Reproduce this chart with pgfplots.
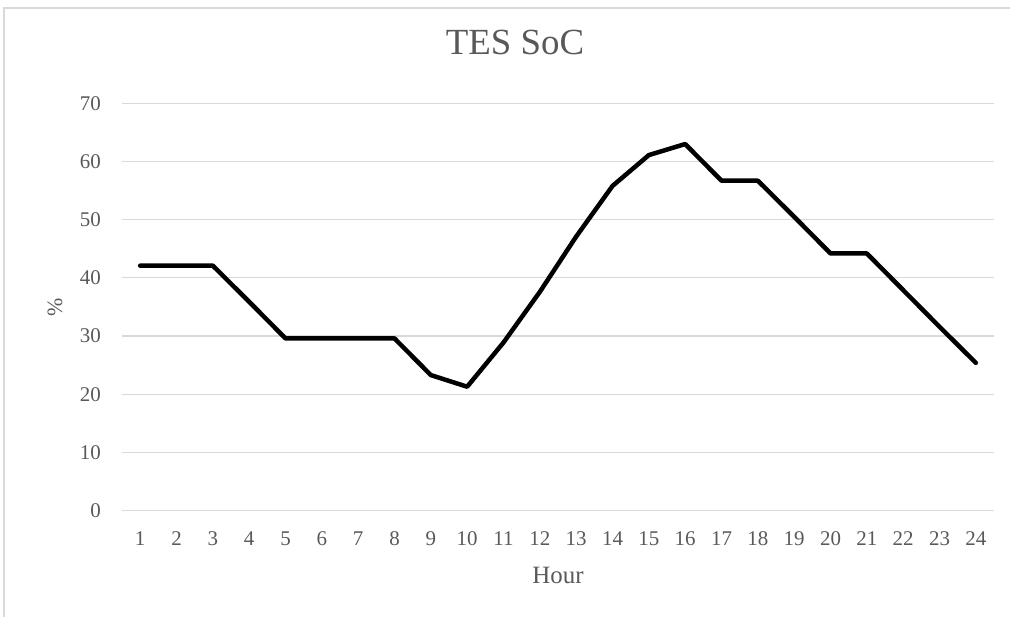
\documentclass[border=0pt]{standalone}
\usepackage{fontspec}
\setmainfont{Liberation Serif}
\usepackage{pgfplots}
\pgfplotsset{compat=1.18}
\definecolor{txt}{HTML}{595959}
\definecolor{grd}{HTML}{D9D9D9}
\begin{document}
\begin{tikzpicture}[x=1bp,y=1bp]
\useasboundingbox (0,0) rectangle (1010,617);
\draw[grd, line width=1.2bp] (4,0) -- (4,609) -- (1010,609);
\begin{axis}[
  at={(122bp,106.3bp)}, anchor=south west,
  scale only axis, width=872bp, height=407.4bp,
  xmin=0.5, xmax=24.5, ymin=0, ymax=70,
  xtick={1,...,24}, ytick={0,10,...,70},
  ymajorgrids, grid style={grd, line width=1.2bp},
  axis line style={draw=none},
  major tick length=0pt,
  /pgf/number format/assume math mode=true,
  tick label style={color=txt, font=\fontsize{21}{24}\selectfont, inner sep=0pt},
  xticklabel style={anchor=north, yshift=-21bp},
  yticklabel style={anchor=east, xshift=-21bp},
  title={TES SoC},
  title style={color=txt, font=\fontsize{37}{40}\selectfont, inner sep=0pt, at={(rel axis cs:0.5,1)}, anchor=center, xshift=-43bp, yshift=54.8bp},
  xlabel={Hour},
  xlabel style={color=txt, font=\fontsize{25}{28}\selectfont, inner sep=0pt, at={(rel axis cs:0.5,0)}, anchor=center, yshift=-64.3bp},
  ylabel={\%},
  ylabel style={color=txt, font=\fontsize{22}{24}\selectfont, inner sep=0pt, at={(axis description cs:-0.0768,0.5)}, anchor=center},
  clip=false,
]
\addplot[black, line width=4.5bp, line join=round, line cap=round] coordinates {
(1,42.1) (2,42.1) (3,42.1) (4,35.9) (5,29.6) (6,29.6) (7,29.6) (8,29.6)
(9,23.3) (10,21.3) (11,28.9) (12,37.6) (13,47.1) (14,55.8) (15,61.1) (16,63.0)
(17,56.7) (18,56.7) (19,50.5) (20,44.2) (21,44.2) (22,37.9) (23,31.6) (24,25.4)
};
\end{axis}
\end{tikzpicture}
\end{document}
